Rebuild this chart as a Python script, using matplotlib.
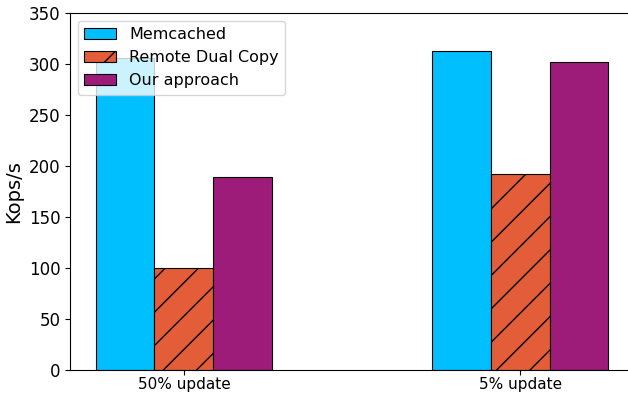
import matplotlib
matplotlib.use("Agg")
import matplotlib.pyplot as plt
import numpy as np

categories = ["50% update", "5% update"]
series_names = ["Memcached", "Remote Dual Copy", "Our approach"]
memcached = [306, 313]
remote_dual_copy = [100, 192]
our_approach = [189, 302]

colors = ["#00BFFF", "#E35D38", "#9E1C79"]
hatches = ["", "/", ""]

fig = plt.figure(figsize=(6.28, 3.93), dpi=100)
ax = fig.add_axes([70/628, 23/393, 564/628, 357/393])

x = np.arange(len(categories))
w = 0.175
for i, (name, vals) in enumerate(zip(series_names, [memcached, remote_dual_copy, our_approach])):
    ax.bar(x + (i - 1) * w, vals, w, label=name, color=colors[i],
           edgecolor="black", hatch=hatches[i], linewidth=0.8)

ax.set_xticks(x)
ax.set_xticklabels(categories, fontsize=11)
ax.tick_params(axis="x", pad=1.5)
ax.tick_params(axis="y", labelsize=12)
ax.set_ylim(0, 350)
ax.set_ylabel("Kops/s", fontsize=14)
ax.legend(loc="upper left", fontsize=11.5)

fig.savefig("out.png", dpi=100)
